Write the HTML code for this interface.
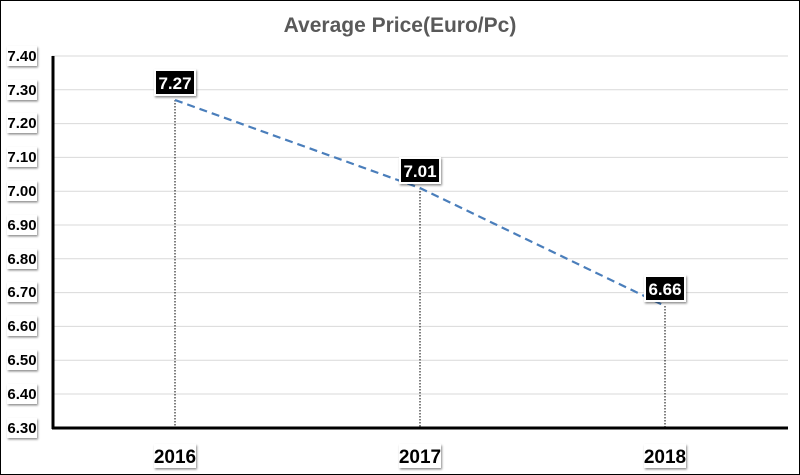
<!DOCTYPE html>
<html><head><style>
body{margin:0;background:#fff;}
svg{display:block;font-family:"Liberation Sans",sans-serif;}
</style></head><body>
<svg width="800" height="475" xmlns="http://www.w3.org/2000/svg">
<defs><filter id="sh" x="-20%" y="-20%" width="150%" height="160%"><feDropShadow dx="1" dy="1.5" stdDeviation="1" flood-color="#000" flood-opacity="0.45"/></filter></defs>
<rect x="0.5" y="0.5" width="799" height="474" fill="#fff" stroke="#000"/>
<text x="400" y="32" text-anchor="middle" font-size="21" fill="#595959" font-weight="bold">Average Price(Euro/Pc)</text>
<g stroke="#d9d9d9" stroke-width="1">
<line x1="52" x2="788" y1="56" y2="56"/><line x1="52" x2="788" y1="89.8" y2="89.8"/><line x1="52" x2="788" y1="123.6" y2="123.6"/><line x1="52" x2="788" y1="157.4" y2="157.4"/><line x1="52" x2="788" y1="191.2" y2="191.2"/><line x1="52" x2="788" y1="225" y2="225"/><line x1="52" x2="788" y1="258.8" y2="258.8"/><line x1="52" x2="788" y1="292.6" y2="292.6"/><line x1="52" x2="788" y1="326.4" y2="326.4"/><line x1="52" x2="788" y1="360.2" y2="360.2"/><line x1="52" x2="788" y1="394" y2="394"/>
</g>
<g stroke="#000" stroke-width="1" stroke-dasharray="1.5,1.5">
<line x1="175" x2="175" y1="100" y2="428"/><line x1="420" x2="420" y1="188" y2="428"/><line x1="665" x2="665" y1="306" y2="428"/>
</g>
<polyline points="175,100 420,188 665,306" fill="none" stroke="#4a7ebb" stroke-width="2.2" stroke-dasharray="8,5"/>
<line x1="53" x2="53" y1="56" y2="429" stroke="#000" stroke-width="3"/>
<line x1="52" x2="788" y1="428" y2="428" stroke="#000" stroke-width="3"/>
<g font-size="15" font-weight="bold" fill="#000">
<g filter="url(#sh)" fill="#fff"><rect x="7" y="46" width="30" height="20"/><rect x="7" y="80" width="30" height="20"/><rect x="7" y="113" width="30" height="20"/><rect x="7" y="147" width="30" height="20"/><rect x="7" y="181" width="30" height="20"/><rect x="7" y="215" width="30" height="20"/><rect x="7" y="249" width="30" height="20"/><rect x="7" y="282" width="30" height="20"/><rect x="7" y="316" width="30" height="20"/><rect x="7" y="350" width="30" height="20"/><rect x="7" y="384" width="30" height="20"/><rect x="7" y="418" width="30" height="20"/>
<rect x="154" y="444" width="42" height="24"/><rect x="399" y="444" width="42" height="24"/><rect x="644" y="444" width="42" height="24"/></g>
<g text-anchor="middle"><text x="22" y="61">7.40</text><text x="22" y="95">7.30</text><text x="22" y="128">7.20</text><text x="22" y="162">7.10</text><text x="22" y="196">7.00</text><text x="22" y="230">6.90</text><text x="22" y="264">6.80</text><text x="22" y="297">6.70</text><text x="22" y="331">6.60</text><text x="22" y="365">6.50</text><text x="22" y="399">6.40</text><text x="22" y="433">6.30</text>
<text x="175" y="463" font-size="19">2016</text><text x="420" y="463" font-size="19">2017</text><text x="665" y="463" font-size="19">2018</text></g>
</g>
<g filter="url(#sh)"><rect x="154" y="69" width="42" height="27" fill="#fff"/><rect x="399" y="157" width="42" height="27" fill="#fff"/><rect x="644" y="275" width="42" height="27" fill="#fff"/></g>
<g fill="#000"><rect x="156" y="71" width="38" height="23"/><rect x="401" y="159" width="38" height="23"/><rect x="646" y="277" width="38" height="23"/></g>
<g fill="#fff" font-size="17" font-weight="bold" text-anchor="middle"><text x="175" y="89">7.27</text><text x="420" y="177">7.01</text><text x="665" y="295">6.66</text></g>
</svg>
</body></html>
